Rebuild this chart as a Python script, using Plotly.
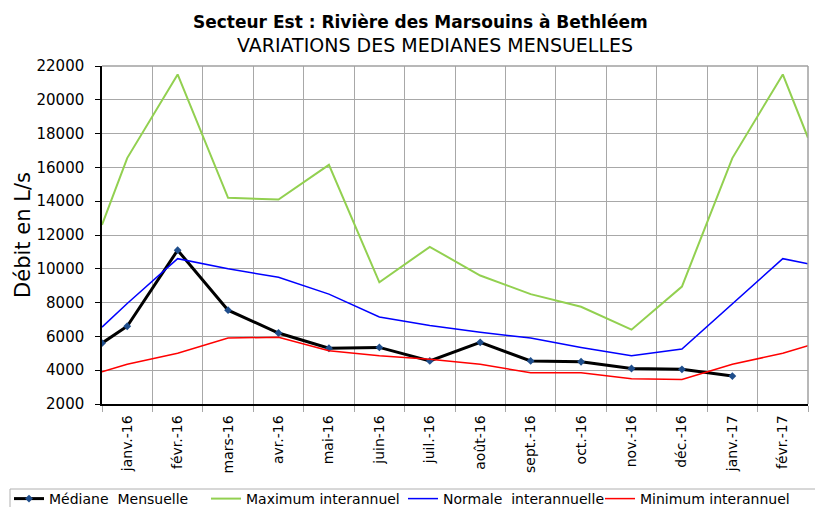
import plotly.graph_objects as go
import numpy as np

# Catégories (mois) et valeurs
mois = ["janv.-16", "févr.-16", "mars-16", "avr.-16", "mai-16", "juin-16", "juil.-16",
        "août-16", "sept.-16", "oct.-16", "nov.-16", "déc.-16", "janv.-17", "févr.-17"]

# valeurs aux bords du graphique (début / fin de l'axe), puis une valeur par mois
mediane_debut, mediane_fin = 5600, None
maximum_debut, maximum_fin = 12600, 17750
normale_debut, normale_fin = 6550, 10300
minimum_debut, minimum_fin = 3900, 5450

mediane = [6600, 11100, 7550, 6200, 5300, 5350, 4550, 5650, 4550, 4500, 4100, 4050, 3650, None]
maximum = [16550, 21500, 14200, 14100, 16150, 9200, 11300, 9600, 8500, 7750, 6400, 8950, 16550, 21500]
normale = [7950, 10600, 10000, 9500, 8500, 7150, 6650, 6250, 5900, 5350, 4850, 5250, 7950, 10600]
minimum = [4350, 5000, 5900, 5950, 5150, 4850, 4650, 4350, 3850, 3850, 3500, 3450, 4350, 5000]

n = len(mois)
idx = np.arange(n)
x_all = np.concatenate([[idx[0] - 0.5], idx, [idx[-1] + 0.5]])


def serie(debut, valeurs, fin):
    return [debut] + list(valeurs) + [fin]


fig = go.Figure()
fig.add_trace(go.Scatter(
    x=x_all, y=serie(mediane_debut, mediane, mediane_fin), name="Médiane\u00a0 Mensuelle",
    mode="lines+markers", line=dict(color="#000000", width=3),
    marker=dict(symbol="diamond", size=6, color="#1F4E8C"),
    connectgaps=False))
fig.add_trace(go.Scatter(
    x=x_all, y=serie(maximum_debut, maximum, maximum_fin), name="Maximum interannuel",
    mode="lines", line=dict(color="#92D050", width=2)))
fig.add_trace(go.Scatter(
    x=x_all, y=serie(normale_debut, normale, normale_fin), name="Normale\u00a0 interannuelle",
    mode="lines", line=dict(color="#0000FF", width=1.5)))
fig.add_trace(go.Scatter(
    x=x_all, y=serie(minimum_debut, minimum, minimum_fin), name="Minimum interannuel",
    mode="lines", line=dict(color="#FF0000", width=1.5)))

# the page body has an 8px margin: the figure is sized so that it fills the window
OFF = 8
W, H = 823 - OFF, 507 - OFF
ML, MR, MT, MB = 102 - OFF, 15, 66 - OFF, 103
plot_w = W - ML - MR
plot_h = H - MT - MB


def px_x(x):  # page x -> paper x
    return (x - 102) / plot_w


def px_y(y):  # page y -> paper y
    return (404 - y) / plot_h


grid = "#A8A8A8"
fig.update_layout(
    width=W, height=H,
    margin=dict(l=ML, r=MR, t=MT, b=MB, pad=0, autoexpand=False),
    paper_bgcolor="white", plot_bgcolor="white",
    font=dict(family="DejaVu Sans", color="#000000"),
    showlegend=True,
    legend=dict(orientation="h", x=px_x(9), y=px_y(483),
                xanchor="left", yanchor="top",
                borderwidth=0, bgcolor="rgba(0,0,0,0)",
                font=dict(family="DejaVu Sans", size=14),
                entrywidth=152, entrywidthmode="pixels",
                itemwidth=30, tracegroupgap=0),
    xaxis=dict(
        range=[-0.5, n - 0.5], tickmode="array", tickvals=idx, ticktext=mois,
        tickangle=-90, ticks="", ticklen=0, showgrid=False, automargin=False,
        tickfont=dict(family="DejaVu Sans", size=14),
        showline=True, linecolor="#000000", linewidth=1.5, zeroline=False,
        minor=dict(tickmode="linear", tick0=-0.5, dtick=1, showgrid=True,
                   gridcolor=grid, gridwidth=1, ticks="outside", ticklen=6,
                   tickcolor=grid),
        ticklabelstandoff=4,
    ),
    yaxis=dict(
        range=[2000, 22000], dtick=2000, tick0=2000, tickformat="d", showgrid=True, gridcolor=grid,
        gridwidth=1, ticks="outside", ticklen=5, tickcolor="#000000", automargin=False,
        tickfont=dict(family="DejaVu Sans", size=15),
        showline=True, linecolor="#000000", linewidth=1.5, zeroline=False,
        title=dict(text="Débit en L/s", font=dict(family="DejaVu Sans", size=21), standoff=0),
        ticklabelstandoff=8,
    ),
    shapes=[
        dict(type="line", xref="paper", yref="paper", x0=0, x1=1, y0=1, y1=1,
             line=dict(color="#A0A0A0", width=1.5)),
        dict(type="line", xref="paper", yref="paper", x0=1, x1=1, y0=0, y1=1,
             line=dict(color="#A0A0A0", width=1.5)),
        # legend frame
        dict(type="rect", xref="paper", yref="paper", x0=px_x(10), x1=px_x(818),
             y0=px_y(489), y1=px_y(530), line=dict(color="#B0B0B0", width=1),
             fillcolor="rgba(0,0,0,0)", layer="below"),
    ],
    annotations=[
        dict(text="<b>Secteur Est : Rivière des Marsouins à Bethléem</b>", xref="paper", yref="paper",
             x=px_x(420), y=px_y(22), xanchor="center", yanchor="middle",
             showarrow=False, font=dict(family="DejaVu Sans", size=17)),
        dict(text="VARIATIONS DES MEDIANES MENSUELLES", xref="paper", yref="paper",
             x=px_x(435), y=px_y(45), xanchor="center", yanchor="middle",
             showarrow=False, font=dict(family="DejaVu Sans", size=19)),
    ],
)

fig.write_html("out.html")
